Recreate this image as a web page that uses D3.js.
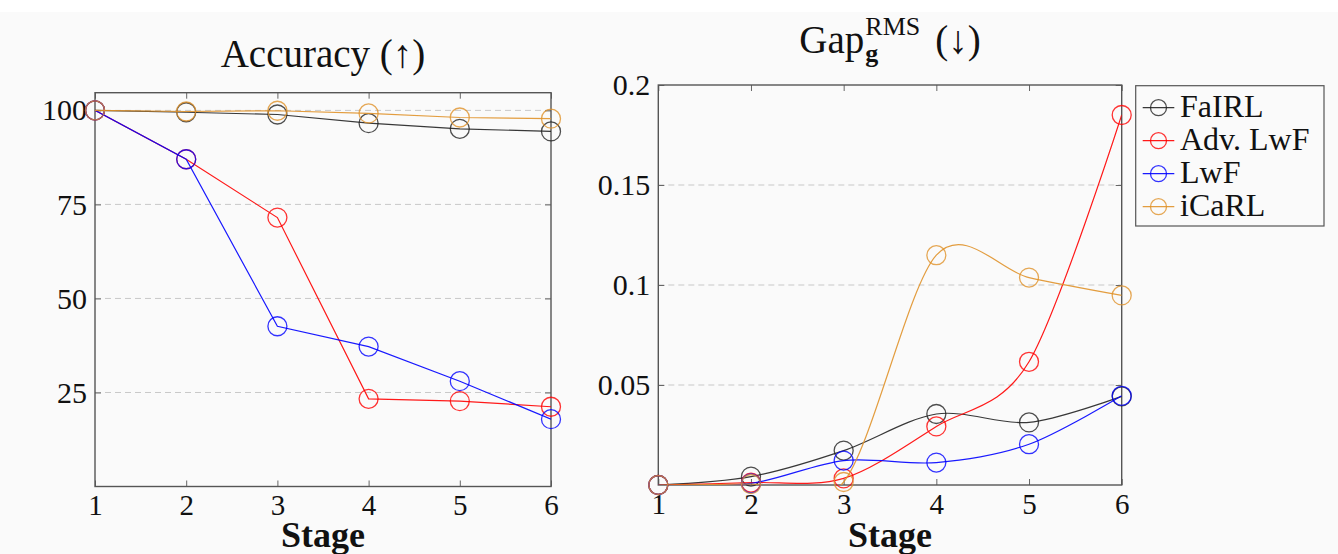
<!DOCTYPE html>
<html>
<head>
<meta charset="utf-8">
<script src="https://cdn.jsdelivr.net/npm/d3@7"></script>
<style>
	html, body { margin: 0; padding: 0; background: #fafafa; }
	svg { display: block; }
	text { font-family: "Liberation Serif", "Times New Roman", serif; fill: #111; }
</style>
</head>
<body>
<script>
	// stages on the x axis
	var stages = [1, 2, 3, 4, 5, 6];
	var methods = ["FaIRL", "Adv. LwF", "LwF", "iCaRL"];
	var colors = ["#222222", "#ff0000", "#0000ff", "#e0922a"];

	// Accuracy (up is better)
	var accFaIRL = [100, 99.5, 98.9, 96.6, 95.1, 94.4];
	var accAdvLwF = [100, 87.0, 71.5, 23.3, 22.7, 21.2];
	var accLwF = [100, 87.0, 42.6, 37.2, 28.0, 17.9];
	var accICaRL = [100, 99.7, 99.9, 99.2, 98.1, 97.8];

	// Gap RMS (down is better)
	var gapFaIRL = [0, 0.0042, 0.0172, 0.0355, 0.0313, 0.0443];
	var gapAdvLwF = [0, 0.0012, 0.0033, 0.0293, 0.0616, 0.185];
	var gapLwF = [0, 0.0008, 0.0122, 0.0112, 0.0204, 0.0446];
	var gapICaRL = [0, 0.0005, 0.0015, 0.1149, 0.1037, 0.0948];

	var accTicks = [25, 50, 75, 100];
	var gapTicks = [0.05, 0.1, 0.15, 0.2];
	var gapTickLabels = ["0.05", "0.1", "0.15", "0.2"];

	var W = 1338, H = 554;

	var svg = d3.select("body").append("svg")
		.attr("width", W)
		.attr("height", H);

	svg.append("rect")
		.attr("width", W)
		.attr("height", 12)
		.attr("fill", "#ffffff");

	var defs = svg.append("defs");

	var panels = [
		{
			left: 95, right: 551, top: 92.7, bottom: 486.5,
			ymax: 104.7, ticks: accTicks, labels: accTicks.map(String),
			series: [accFaIRL, accAdvLwF, accLwF, accICaRL],
			curve: d3.curveLinear, grid: [25, 50, 75, 100]
		},
		{
			left: 658.3, right: 1121.7, top: 85, bottom: 485,
			ymax: 0.2, ticks: gapTicks, labels: gapTickLabels,
			series: [gapFaIRL, gapAdvLwF, gapLwF, gapICaRL],
			curve: d3.curveCardinal.tension(0.08), grid: [0.05, 0.1, 0.15]
		}
	];

	panels.forEach(function(p, pi) {
		var x = d3.scaleLinear().domain([1, 6]).range([p.left, p.right]);
		var y = d3.scaleLinear().domain([0, p.ymax]).range([p.bottom, p.top]);
		var g = svg.append("g");

		// lines are clipped to the axis box, markers are not
		defs.append("clipPath")
			.attr("id", "clip" + pi)
			.append("rect")
			.attr("x", p.left)
			.attr("y", p.top)
			.attr("width", p.right - p.left)
			.attr("height", p.bottom - p.top);

		// dashed grid
		g.selectAll("line.grid")
			.data(p.grid)
			.enter()
			.append("line")
			.attr("class", "grid")
			.attr("x1", p.left)
			.attr("x2", p.right)
			.attr("y1", function(d) { return y(d); })
			.attr("y2", function(d) { return y(d); })
			.attr("stroke", "#c8c8c8")
			.attr("stroke-width", 1)
			.attr("stroke-dasharray", "6,4");

		var fmt = function(d) { return p.labels[p.ticks.indexOf(d)]; };

		var ax = [
			d3.axisBottom(x).tickValues(stages).tickFormat(d3.format("d")).tickPadding(8),
			d3.axisTop(x).tickValues(stages).tickFormat(""),
			d3.axisLeft(y).tickValues(p.ticks).tickFormat(fmt).tickPadding(8),
			d3.axisRight(y).tickValues(p.ticks).tickFormat("")
		];
		var pos = [
			"translate(0," + p.bottom + ")",
			"translate(0," + p.top + ")",
			"translate(" + p.left + ",0)",
			"translate(" + p.right + ",0)"
		];
		ax.forEach(function(a, i) {
			var ag = g.append("g")
				.attr("transform", pos[i])
				.call(a.tickSizeInner(-6).tickSizeOuter(0));
			ag.select(".domain").remove();
			ag.selectAll(".tick line").attr("stroke", "#666").attr("stroke-width", 1);
			ag.selectAll("text")
				.attr("font-family", "Liberation Serif")
				.attr("font-size", i === 0 ? 29 : 30)
				.attr("fill", "#111");
		});

		// frame
		g.append("rect")
			.attr("x", p.left)
			.attr("y", p.top)
			.attr("width", p.right - p.left)
			.attr("height", p.bottom - p.top)
			.attr("fill", "none")
			.attr("stroke", "#555")
			.attr("stroke-width", 1.4);

		var line = d3.line()
			.x(function(d, i) { return x(stages[i]); })
			.y(function(d) { return y(d); })
			.curve(p.curve);

		p.series.forEach(function(vals, si) {
			g.append("path")
				.datum(vals)
				.attr("d", line)
				.attr("clip-path", "url(#clip" + pi + ")")
				.attr("fill", "none")
				.attr("stroke", colors[si])
				.attr("stroke-opacity", 0.9)
				.attr("stroke-width", 1.2);
			g.selectAll("circle.s" + si)
				.data(vals)
				.enter()
				.append("circle")
				.attr("class", "s" + si)
				.attr("cx", function(d, i) { return x(stages[i]); })
				.attr("cy", function(d) { return y(d); })
				.attr("r", 9.5)
				.attr("fill", "none")
				.attr("stroke", colors[si])
				.attr("stroke-opacity", 0.8)
				.attr("stroke-width", 1.3);
		});

		// x label
		g.append("text")
			.attr("x", (p.left + p.right) / 2)
			.attr("y", 547)
			.attr("text-anchor", "middle")
			.attr("font-size", 36)
			.attr("font-weight", "bold")
			.text("Stage");
	});

	// titles
	svg.append("text")
		.attr("x", (panels[0].left + panels[0].right) / 2)
		.attr("y", 66.7)
		.attr("text-anchor", "middle")
		.attr("font-size", 39)
		.text("Accuracy (\u2191)");

	var tg = svg.append("g");
	var gap = tg.append("text").attr("x", 0).attr("y", 52.7).attr("font-size", 39).text("Gap");
	var gw = gap.node().getComputedTextLength() + 1;
	tg.append("text").attr("x", gw).attr("y", 61.5).attr("font-size", 26).attr("font-weight", "bold").text("g");
	var sup = tg.append("text").attr("x", gw).attr("y", 35).attr("font-size", 26).text("RMS");
	var sw = sup.node().getComputedTextLength();
	var arr = tg.append("text").attr("x", gw + sw + 15).attr("y", 52.7).attr("font-size", 39).text("(\u2193)");
	var total = gw + sw + 15 + arr.node().getComputedTextLength();
	tg.attr("transform", "translate(" + ((panels[1].left + panels[1].right) / 2 - total / 2) + ",0)");

	// legend
	var lg = svg.append("g");
	lg.append("rect")
		.attr("x", 1135.7)
		.attr("y", 85.7)
		.attr("width", 188.3)
		.attr("height", 140.3)
		.attr("fill", "none")
		.attr("stroke", "#555")
		.attr("stroke-width", 1.2);
	var items = lg.selectAll("g.item")
		.data(methods)
		.enter()
		.append("g")
		.attr("class", "item")
		.attr("transform", function(d, i) { return "translate(0," + (107.7 + 33 * i) + ")"; });
	items.append("line")
		.attr("x1", 1142.7)
		.attr("x2", 1174.3)
		.attr("stroke", function(d, i) { return colors[i]; })
		.attr("stroke-opacity", 0.9)
		.attr("stroke-width", 1.2);
	items.append("circle")
		.attr("cx", 1158.5)
		.attr("r", 8)
		.attr("fill", "none")
		.attr("stroke", function(d, i) { return colors[i]; })
		.attr("stroke-opacity", 0.8)
		.attr("stroke-width", 1.3);
	items.append("text")
		.attr("x", 1180)
		.attr("y", 9)
		.attr("font-size", 32)
		.text(function(d) { return d; });
</script>
</body>
</html>
